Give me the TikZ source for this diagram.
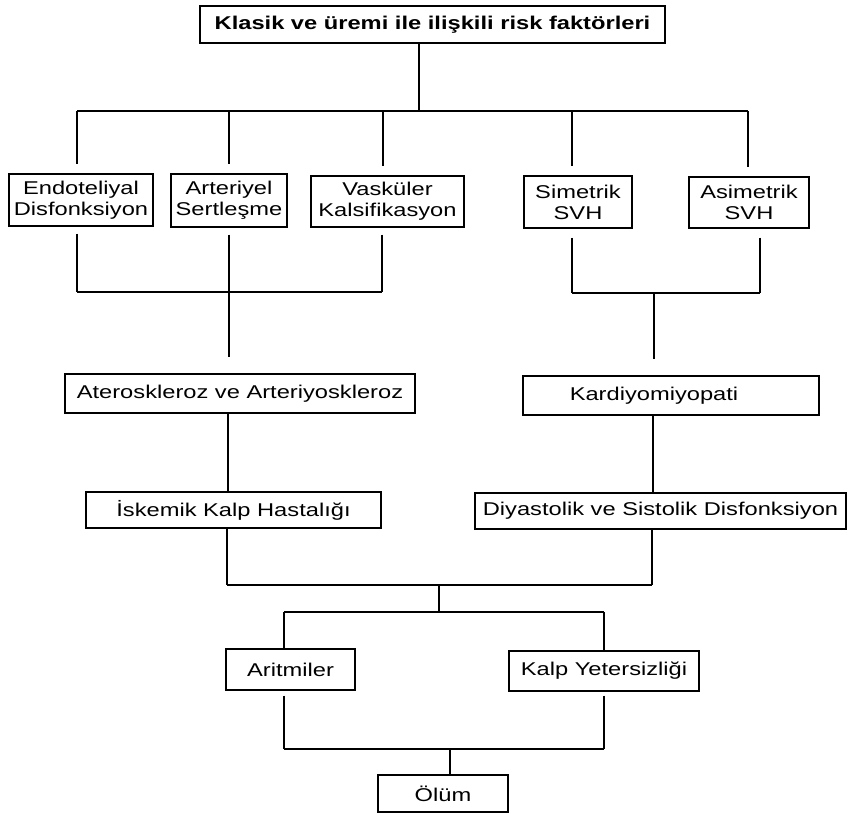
\documentclass[tikz,border=0pt]{standalone}
\usepackage{fontspec}
\setmainfont{Liberation Sans}[FakeStretch=1.28]
\begin{document}
\begin{tikzpicture}[x=1pt,y=-1pt,line width=1.3pt,
  box/.style 2 args={draw, rectangle, inner sep=0pt, align=center,
    minimum width=#1, minimum height=#2,
    font=\fontsize{18.5}{21}\selectfont},
  gap/.style={shorten >=#1}]
\useasboundingbox (0,0) rectangle (848,815);
% boxes
\node[box={465pt}{37pt}, font=\fontsize{18.5}{21}\selectfont\bfseries] (top) at (432.5,24.5) {Klasik ve üremi ile ilişkili risk faktörleri};
\node[box={144pt}{52pt}] (endo) at (81,200) {Endoteliyal\\Disfonksiyon};
\node[box={116pt}{53pt}] (art) at (229,200.5) {Arteriyel\\Sertleşme};
\node[box={153pt}{51pt}] (vask) at (387.5,201.5) {Vasküler\\Kalsifikasyon};
\node[box={108pt}{52pt}] (sim) at (578,202) {Simetrik\\SVH};
\node[box={120pt}{51pt}] (asim) at (749,202.5) {Asimetrik\\SVH};
\node[box={350pt}{39pt}] (atero) at (240,393.5) {Ateroskleroz ve Arteriyoskleroz};
\node[box={296pt}{39pt}] (kardi) at (671,395.5) {\hspace*{-34pt}Kardiyomiyopati};
\node[box={295pt}{36pt}] (isk) at (233.5,510) {İskemik Kalp Hastalığı};
\node[box={371pt}{36pt}] (diy) at (660.5,511) {Diyastolik ve Sistolik Disfonksiyon};
\node[box={129pt}{41pt}] (arit) at (290.5,669.5) {Aritmiler};
\node[box={190pt}{40pt}] (kalp) at (604,671) {Kalp Yetersizliği};
\node[box={130pt}{37pt}] (olum) at (443,793.5) {Ölüm};
% junction coordinates
\coordinate (b1L) at (77,111);
\coordinate (b1R) at (748,111);
\coordinate (b1M) at (419,111);
\coordinate (b2L) at (77,292);
\coordinate (b2R) at (382,292);
\coordinate (b2M) at (229,292);
\coordinate (b3L) at (572,293);
\coordinate (b3R) at (760,293);
\coordinate (b3M) at (654,293);
\coordinate (b4L) at (227,585);
\coordinate (b4R) at (652,585);
\coordinate (b4M) at (439,585);
\coordinate (b5L) at (284,612);
\coordinate (b5R) at (604,612);
\coordinate (b5M) at (439,612);
\coordinate (b6L) at (284,749);
\coordinate (b6R) at (604,749);
\coordinate (b6M) at (450,749);
% top fan-out
\draw (top.south -| b1M) -- (b1M);
\draw (b1L) -- (b1R);
\draw[gap=9pt] (b1L) -- (b1L |- endo.north);
\draw[gap=9pt] (art.north |- b1L) -- (art.north);
\draw[gap=9pt] ([xshift=-4.5pt]vask.north |- b1L) -- ([xshift=-4.5pt]vask.north);
\draw[gap=9pt] ([xshift=-6pt]sim.north |- b1L) -- ([xshift=-6pt]sim.north);
\draw[gap=9pt] (b1R) -- (b1R |- asim.north);
% left group merge
\draw[shorten <=7pt] (b2L |- endo.south) -- (b2L);
\draw[shorten <=7pt] (b2M |- art.south) -- (b2M);
\draw[shorten <=7pt] (b2R |- vask.south) -- (b2R);
\draw (b2L) -- (b2R);
\draw[gap=16pt] (b2M) -- (b2M |- atero.north);
% right group merge
\draw[shorten <=9pt] (b3L |- sim.south) -- (b3L);
\draw[shorten <=9pt] (b3R |- asim.south) -- (b3R);
\draw (b3L) -- (b3R);
\draw[gap=16pt] (b3M) -- (b3M |- kardi.north);
% chains
\draw ([xshift=-12pt]atero.south) -- ([xshift=-12pt]atero.south |- isk.north);
\draw ([xshift=-18pt]kardi.south) -- ([xshift=-18pt]kardi.south |- diy.north);
% to rhythm/failure
\draw (b4L |- isk.south) -- (b4L);
\draw (b4R |- diy.south) -- (b4R);
\draw (b4L) -- (b4R);
\draw (b4M) -- (b5M);
\draw (b5L) -- (b5R);
\draw (b5L) -- (b5L |- arit.north);
\draw (b5R) -- (b5R |- kalp.north);
% to death
\draw[shorten <=5pt] (b6L |- arit.south) -- (b6L);
\draw[shorten <=4pt] (b6R |- kalp.south) -- (b6R);
\draw (b6L) -- (b6R);
\draw (b6M) -- (b6M |- olum.north);
\end{tikzpicture}
\end{document}
